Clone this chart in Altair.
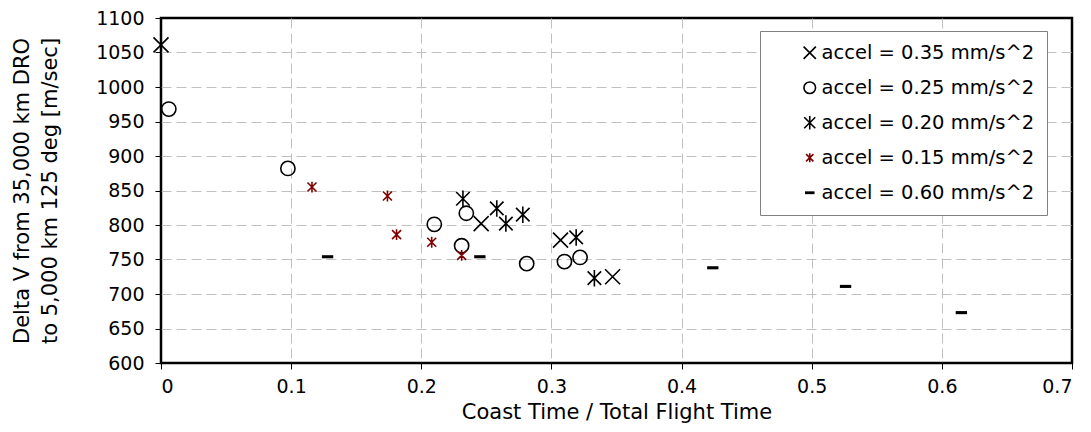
import altair as alt
import pandas as pd

# series labels (legend order)
series_names = [
    "accel = 0.35 mm/s^2",
    "accel = 0.25 mm/s^2",
    "accel = 0.20 mm/s^2",
    "accel = 0.15 mm/s^2",
    "accel = 0.60 mm/s^2",
]

# coast time / total flight time, delta V [m/s]
x_035 = [0.0, 0.246, 0.307, 0.347]
y_035 = [1061, 802, 778, 725]

x_025 = [0.006, 0.0975, 0.210, 0.231, 0.2346, 0.281, 0.310, 0.322]
y_025 = [968, 882, 801, 770, 817, 744, 747, 753]

x_020 = [0.232, 0.258, 0.265, 0.278, 0.319, 0.333]
y_020 = [838, 824, 802, 815, 782, 723]

x_015 = [0.116, 0.174, 0.181, 0.208, 0.231]
y_015 = [855, 842, 786, 775, 756]

x_060 = [0.128, 0.245, 0.424, 0.526, 0.615]
y_060 = [754, 754, 738, 711, 673]

rows = []
for name, xs, ys in zip(series_names,
                        [x_035, x_025, x_020, x_015, x_060],
                        [y_035, y_025, y_020, y_015, y_060]):
    for xv, yv in zip(xs, ys):
        rows.append({"series": name, "x": xv, "y": yv})
df = pd.DataFrame(rows)

shape_x = "M-1,-1L1,1M-1,1L1,-1"
shape_circle = "M-0.95,0A0.95,0.95,0,1,1,0.95,0A0.95,0.95,0,1,1,-0.95,0Z"
shape_ast = "M-0.9,-0.9L0.9,0.9M-0.9,0.9L0.9,-0.9M0,-1.1L0,1.1"
shape_ast_small = "M-0.6,-0.6L0.6,0.6M-0.6,0.6L0.6,-0.6M0,-0.72L0,0.72"
shape_dash = "M-0.65,-0.1L0.65,-0.1L0.65,0.1L-0.65,0.1Z"

shapes = [shape_x, shape_circle, shape_ast, shape_ast_small, shape_dash]
colors = ["#000000", "#000000", "#000000", "#800000", "#000000"]

chart = (
    alt.Chart(df)
    .mark_point(filled=False, size=225, strokeWidth=1.6, opacity=1)
    .encode(
        x=alt.X("x:Q", title="Coast Time / Total Flight Time",
                scale=alt.Scale(domain=[0, 0.7], nice=False, zero=False),
                axis=alt.Axis(values=[0, 0.1, 0.2, 0.3, 0.4, 0.5, 0.6, 0.7],
                              format="~g", labelPadding=8,
                              titleY=38, titleBaseline="top",
                              gridOpacity={"condition": {"test": "datum.value === 0 || datum.value === 0.7", "value": 0}, "value": 1})),
        y=alt.Y("y:Q",
                title=["Delta V from 35,000 km DRO", "to 5,000 km 125 deg [m/sec]"],
                scale=alt.Scale(domain=[600, 1100], nice=False, zero=False),
                axis=alt.Axis(values=list(range(600, 1101, 50)), format="d",
                              labelPadding=11,
                              titleX=-129, titleBaseline="bottom",
                              titleLineHeight=28,
                              gridOpacity={"condition": {"test": "datum.value === 600 || datum.value === 1100", "value": 0}, "value": 1})),
        shape=alt.Shape("series:N",
                        scale=alt.Scale(domain=series_names, range=shapes),
                        legend=alt.Legend(title=None)),
        color=alt.Color("series:N",
                        scale=alt.Scale(domain=series_names, range=colors),
                        legend=alt.Legend(title=None)),
    )
    .properties(
        width=911, height=345,
        autosize="none",
        padding={"left": 161, "top": 18, "right": 19, "bottom": 69},
    )
    .configure_view(stroke="#000000", strokeWidth=2.5)
    .configure_axis(
        labelFont="DejaVu Sans", labelFontSize=19, labelColor="#000000",
        titleFont="DejaVu Sans", titleFontSize=21, titleFontWeight="normal",
        titleColor="#000000",
        grid=True, gridColor="#c0c0c0", gridDash=[10, 5], gridWidth=1,
        tickColor="#000000", tickSize=6, tickWidth=1, domain=False,
    )
    .configure_legend(
        orient="none", legendX=599, legendY=13,
        strokeColor="#808080", fillColor="#ffffff", padding=12,
        labelFont="DejaVu Sans", labelFontSize=19.5, labelColor="#000000",
        labelLimit=400,
        symbolSize=150, symbolStrokeWidth=1.6, rowPadding=14,
        symbolOffset=28, labelOffset=2,
    )
)

chart.save("out.html", embed_options={"renderer": "svg", "actions": False})
